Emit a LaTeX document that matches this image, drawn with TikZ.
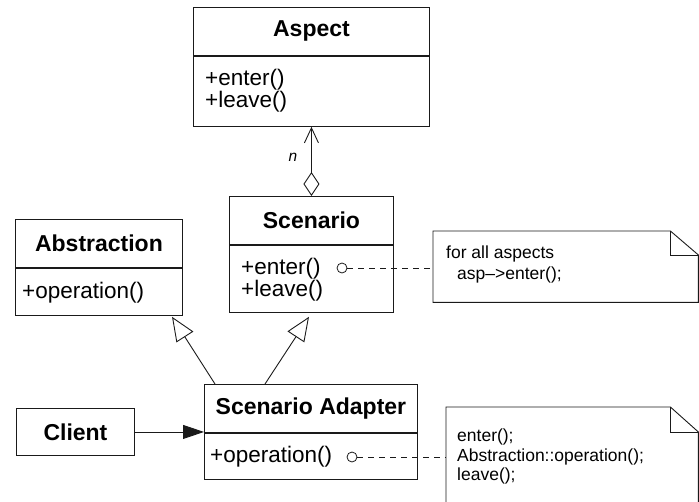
\documentclass[tikz,border=0pt]{standalone}
\usepackage{fontspec}
\setmainfont{Liberation Sans}
\usetikzlibrary{arrows.meta,calc}
\definecolor{linec}{HTML}{1A1A1A}
\tikzset{
  box/.style={draw=linec, line width=0.9pt, inner sep=0pt, anchor=north west},
  head/.style={box, font=\bfseries\fontsize{23}{20}\selectfont},
  member/.style={inner sep=0pt, anchor=base west, font=\fontsize{22.5}{20}\selectfont},
  notetext/.style={inner sep=0pt, anchor=base west, font=\fontsize{17.5}{20}\selectfont},
  notebox/.style={inner sep=0pt, anchor=north west},
  noteline/.style={draw=linec, line width=0.9pt},
  port/.style={circle, draw=linec, line width=0.8pt, minimum size=10pt, inner sep=0pt},
  anchorline/.style={draw=linec, line width=0.8pt, dash pattern=on 6pt off 5pt},
  assoc/.style={draw=linec, line width=0.9pt},
  generalize/.style={assoc, -{Triangle[open,length=24pt,width=20pt]}}
}
\begin{document}
\begin{tikzpicture}[x=1pt,y=-1pt]
\useasboundingbox (0,0) rectangle (699,501);
\begin{scope}
\clip (0,0) rectangle (699,501);
% Aspect
\node[head, minimum width=236pt, minimum height=48pt] (aspecthead) at (193,7) {Aspect};
\node[box, minimum width=236pt, minimum height=70pt] (aspectbody) at (aspecthead.south west) {};
\node[member] (aspectenter) at ($(aspectbody.north west)+(12,30)$) {+enter()};
\node[member] (aspectleave) at ($(aspectbody.north west)+(12,51.5)$) {+leave()};
% Scenario
\node[head, minimum width=164pt, minimum height=48pt] (scenhead) at (229,196) {Scenario};
\node[box, minimum width=164pt, minimum height=67pt] (scenbody) at (scenhead.south west) {};
\node[member] (scenenter) at ($(scenbody.north west)+(12,30)$) {+enter()};
\node[member] (scenleave) at ($(scenbody.north west)+(12,51.5)$) {+leave()};
\node[port] (scenport) at (342,268) {};
% Abstraction
\node[head, minimum width=167pt, minimum height=48pt] (abshead) at (15,219) {Abstraction};
\node[box, minimum width=167pt, minimum height=47pt] (absbody) at (abshead.south west) {};
\node[member] (absop) at ($(absbody.north west)+(7,31)$) {+operation()};
% Scenario Adapter
\node[head, minimum width=213pt, minimum height=48pt] (adapthead) at (204,384) {Scenario Adapter};
\node[box, minimum width=213pt, minimum height=46pt] (adaptbody) at (adapthead.south west) {};
\node[member] (adaptop) at ($(adaptbody.north west)+(6,30)$) {+operation()};
\node[port] (adaptport) at (352,457) {};
% Client
\node[head, minimum width=118pt, minimum height=47pt] (client) at (16,408) {Client};
% Note 1
\node[notebox, minimum width=265pt, minimum height=71pt] (note1) at (433,231) {};
\draw[noteline] (note1.north west) -- ($(note1.north east)+(-28,0)$) -- ($(note1.north east)+(0,24)$) -- (note1.south east) -- (note1.south west) -- cycle;
\draw[noteline] ($(note1.north east)+(-28,0)$) |- ($(note1.north east)+(0,24)$);
\node[notetext] (n1a) at (446,258) {for all aspects};
\node[notetext] (n1b) at (457,279) {asp–>enter();};
% Note 2
\node[notebox, minimum width=252pt, minimum height=110pt] (note2) at (446,407) {};
\draw[noteline] (note2.north west) -- ($(note2.north east)+(-28,0)$) -- ($(note2.north east)+(0,25)$) -- (note2.south east) -- (note2.south west) -- cycle;
\draw[noteline] ($(note2.north east)+(-28,0)$) |- ($(note2.north east)+(0,25)$);
\node[notetext] (n2a) at (457,441) {enter();};
\node[notetext] (n2b) at (457,461) {Abstraction::operation();};
\node[notetext] (n2c) at (457,480) {leave();};
% connectors
\draw[anchorline] (scenport.east) -- (scenport.east -| note1.west);
\draw[anchorline] (adaptport.east) -- (adaptport.east -| note2.west);
\draw[assoc, {Diamond[open,length=24pt,width=16pt]}-{Straight Barb[length=15pt,width=14pt]}] (scenhead.north) -- (aspectbody.south);
\node[inner sep=0pt, font=\itshape\fontsize{15.5}{16}\selectfont] (mult) at (293,157) {n};
\coordinate (g1s) at ($(adapthead.north west)+(11,0)$);
\coordinate (g1e) at ($(absbody.south west)+(157,1)$);
\coordinate (g2s) at ($(adapthead.north west)+(61,0)$);
\coordinate (g2e) at ($(scenbody.south west)+(80,4)$);
\draw[generalize] (g1s) -- (g1e);
\draw[generalize] (g2s) -- (g2e);
\draw[assoc, -{Triangle[length=21pt,width=14pt]}] (client.east) -- (client.east -| adaptbody.north west);
\end{scope}
\end{tikzpicture}
\end{document}
